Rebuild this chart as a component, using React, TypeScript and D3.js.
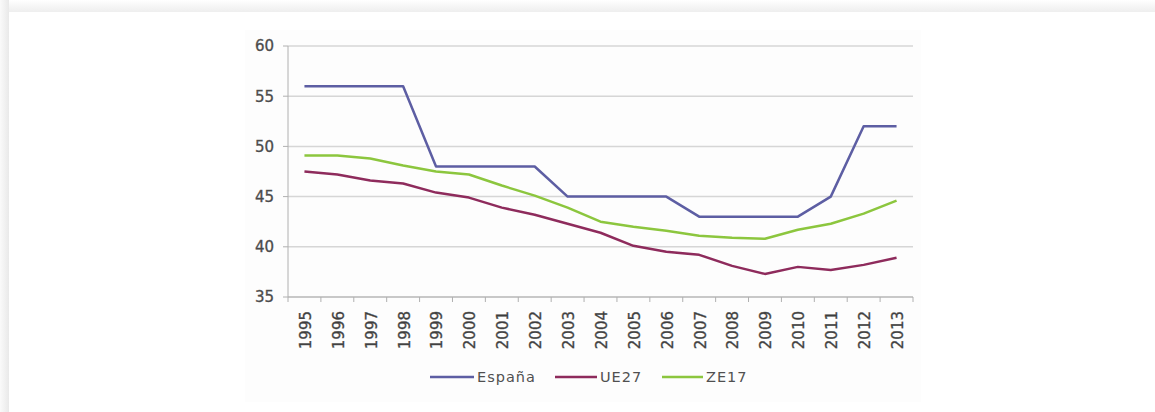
import React from "react";
import * as d3 from "d3";

const years = ["1995","1996","1997","1998","1999","2000","2001","2002","2003","2004","2005","2006","2007","2008","2009","2010","2011","2012","2013"];
const espana = [56,56,56,56,48,48,48,48,45,45,45,45,43,43,43,43,45,52,52];
const ue27 = [47.5,47.2,46.6,46.3,45.4,44.9,43.9,43.2,42.3,41.4,40.1,39.5,39.2,38.1,37.3,38.0,37.7,38.2,38.9];
const ze17 = [49.1,49.1,48.8,48.1,47.5,47.2,46.1,45.1,43.9,42.5,42.0,41.6,41.1,40.9,40.8,41.7,42.3,43.3,44.6];
const yTicks = [35,40,45,50,55,60];
const seriesNames = ["España","UE27","ZE17"];
const seriesColors = ["#5d5ea3","#8e2b5c","#8cc63e"];

export default function App() {
  const W = 1155, H = 412;
  const left = 288, right = 913, top = 46, bottom = 297;
  const x = d3.scaleBand<string>().domain(years).range([left, right]).padding(0);
  const y = d3.scaleLinear().domain([35, 60]).range([bottom, top]);
  const series = [espana, ue27, ze17];
  const line = d3.line<number>()
    .x((_, i) => (x(years[i]) as number) + x.bandwidth() / 2)
    .y((d) => y(d));
  const font = "'DejaVu Sans', sans-serif";
  const legendItems = [
    { x0: 430, x1: 474, tx: 477 },
    { x0: 555, x1: 597, tx: 600 },
    { x0: 662, x1: 703, tx: 706 },
  ];
  const boundaries = years.map((_, i) => left + i * x.bandwidth()).concat([right]);
  const textStroke = { stroke: "#555", strokeWidth: 0.35 };
  return (
    <div style={{ position: "absolute", left: 0, top: 0 }}>
      <svg width={W} height={H} style={{ display: "block" }}>
        <defs>
          <linearGradient id="shL" x1="0" x2="1" y1="0" y2="0">
            <stop offset="0" stopColor="#fafafa" />
            <stop offset="1" stopColor="#e9e9e9" />
          </linearGradient>
          <linearGradient id="shT" x1="0" x2="0" y1="0" y2="1">
            <stop offset="0" stopColor="#ffffff" />
            <stop offset="1" stopColor="#eeeeee" />
          </linearGradient>
        </defs>
        <rect x={0} y={0} width={W} height={H} fill="#ffffff" />
        <rect x={0} y={0} width={9} height={H} fill="url(#shL)" />
        <rect x={9} y={0} width={W - 9} height={12} fill="url(#shT)" />
        <rect x={9} y={12} width={W - 9} height={H - 12} fill="#ffffff" />
        <rect x={245} y={30} width={676} height={372} fill="#fdfdfd" />
        {yTicks.map((t) => (
          <g key={t}>
            <line x1={left} x2={right} y1={y(t)} y2={y(t)} stroke="#d6d6d6" strokeWidth={1.5} />
            <line x1={left - 5} x2={left} y1={y(t)} y2={y(t)} stroke="#b0b0b0" strokeWidth={1} />
            <text x={left - 14} y={y(t)} dy="0.36em" textAnchor="end" fontFamily={font} fontSize={15} fill="#4a4a4a" {...textStroke}>{t}</text>
          </g>
        ))}
        <line x1={left} x2={left} y1={top} y2={bottom} stroke="#b0b0b0" strokeWidth={1} />
        <line x1={left} x2={right} y1={bottom} y2={bottom} stroke="#b0b0b0" strokeWidth={1} />
        {boundaries.map((bx, i) => (
          <line key={i} x1={bx} x2={bx} y1={bottom} y2={bottom + 5} stroke="#b0b0b0" strokeWidth={1} />
        ))}
        {years.map((yr) => {
          const cx = (x(yr) as number) + x.bandwidth() / 2;
          return (
            <text key={yr} transform={`translate(${cx + 1},${311}) rotate(-90)`} textAnchor="end" dy="0.36em" fontFamily={font} fontSize={15} fill="#3c3c3c" {...textStroke}>{yr}</text>
          );
        })}
        {series.map((s, i) => (
          <path key={i} d={line(s) || ""} fill="none" stroke={seriesColors[i]} strokeWidth={2.5} strokeLinejoin="round" />
        ))}
        {seriesNames.map((n, i) => (
          <g key={n}>
            <line x1={legendItems[i].x0} x2={legendItems[i].x1} y1={377} y2={377} stroke={seriesColors[i]} strokeWidth={2.5} />
            <text x={legendItems[i].tx} y={377} dy="0.36em" fontFamily={font} fontSize={14.5} letterSpacing={1} fill="#505050">{n}</text>
          </g>
        ))}
      </svg>
    </div>
  );
}
